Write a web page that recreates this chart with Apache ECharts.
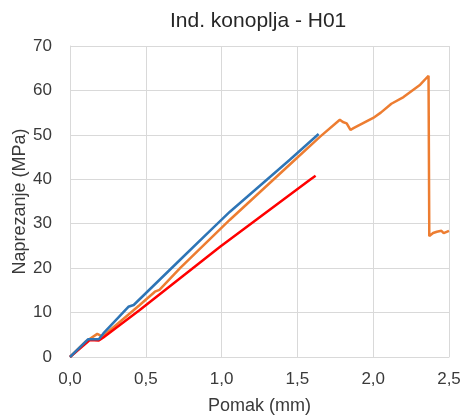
<!DOCTYPE html>
<html>
<head>
<meta charset="utf-8">
<script src="https://cdn.jsdelivr.net/npm/echarts@6/dist/echarts.min.js"></script>
<style>
html,body{margin:0;padding:0;background:#fff;}
#c{width:466px;height:419px;}
</style>
</head>
<body>
<div id="c"></div>
<script>
// Data
const titleText = 'Ind. konoplja - H01';
const xName = 'Pomak (mm)';
const yName = 'Naprezanje (MPa)';

const blueX = [0, 0.12, 0.19, 0.22, 0.385, 0.42, 0.73, 0.93, 1.055, 1.45, 1.64];
const blueY = [0, 4.0, 4.0, 5.3, 11.3, 11.7, 22.0, 28.6, 32.7, 44.4, 50.2];

const orangeX = [0, 0.105, 0.18, 0.215, 0.46, 0.56, 0.59, 0.726, 1.055, 1.484, 1.65, 1.78, 1.80, 1.81, 1.825, 1.85, 1.87, 2.0, 2.05, 2.12, 2.2, 2.31, 2.365, 2.37, 2.395, 2.42, 2.45, 2.465, 2.5];
const orangeY = [0, 3.5, 5.2, 4.6, 11.7, 14.7, 15.1, 20.0, 30.9, 44.4, 49.6, 53.4, 52.9, 53.1, 52.6, 51.1, 51.5, 53.8, 55.0, 57.0, 58.5, 61.3, 63.3, 27.2, 27.9, 28.2, 28.4, 27.9, 28.4];

const redX = [0, 0.13, 0.19, 0.22, 0.46, 0.99, 1.583, 1.62];
const redY = [0, 3.8, 3.7, 4.4, 10.6, 24.8, 39.9, 40.8];

const xTicks = [0, 0.5, 1.0, 1.5, 2.0, 2.5];
const yTicks = [0, 10, 20, 30, 40, 50, 60, 70];

function pairs(xs, ys) { return xs.map((x, i) => [x, ys[i]]); }

const chart = echarts.init(document.getElementById('c'), null, {renderer: 'canvas'});
const font = 'Liberation Sans, Arial, sans-serif';
const gridColor = '#d9d9d9';
const textColor = '#3a3a3a';

chart.setOption({
  animation: false,
  backgroundColor: '#fff',
  title: {
    text: titleText,
    left: 165,
    top: 6,
    textStyle: {fontFamily: font, fontSize: 21, fontWeight: 'normal', color: '#262626'}
  },
  grid: {left: 70, right: 17, top: 46, bottom: 62, containLabel: false, outerBoundsMode: 'none'},
  xAxis: {
    type: 'value',
    min: xTicks[0], max: xTicks[xTicks.length - 1], interval: 0.5,
    name: xName, nameLocation: 'middle', nameGap: 40, nameMoveOverlap: false,
    nameTextStyle: {fontFamily: font, fontSize: 18, color: textColor},
    axisLine: {show: true, lineStyle: {color: gridColor, width: 1}},
    axisTick: {show: false},
    splitLine: {show: true, lineStyle: {color: gridColor, width: 1}},
    axisLabel: {
      fontFamily: font, fontSize: 17, color: textColor, margin: 14,
      formatter: v => v.toFixed(1).replace('.', ',')
    }
  },
  yAxis: {
    type: 'value',
    min: yTicks[0], max: yTicks[yTicks.length - 1], interval: 10,
    name: yName, nameLocation: 'middle', nameGap: 41, nameMoveOverlap: false,
    nameTextStyle: {fontFamily: font, fontSize: 18, color: textColor},
    axisLine: {show: true, lineStyle: {color: gridColor, width: 1}},
    axisTick: {show: false},
    splitLine: {show: true, lineStyle: {color: gridColor, width: 1}},
    axisLabel: {fontFamily: font, fontSize: 17, color: textColor, margin: 18}
  },
  series: [
    {type: 'line', name: 'orange', data: pairs(orangeX, orangeY), showSymbol: false, symbol: 'none',
     lineStyle: {color: '#ED7D31', width: 2.5}, itemStyle: {color: '#ED7D31'}},
    {type: 'line', name: 'red', data: pairs(redX, redY), showSymbol: false, symbol: 'none',
     lineStyle: {color: '#FF0000', width: 2.5}, itemStyle: {color: '#FF0000'}},
    {type: 'line', name: 'blue', data: pairs(blueX, blueY), showSymbol: false, symbol: 'none',
     lineStyle: {color: '#2E75B6', width: 2.5}, itemStyle: {color: '#2E75B6'}}
  ]
});
</script>
</body>
</html>
